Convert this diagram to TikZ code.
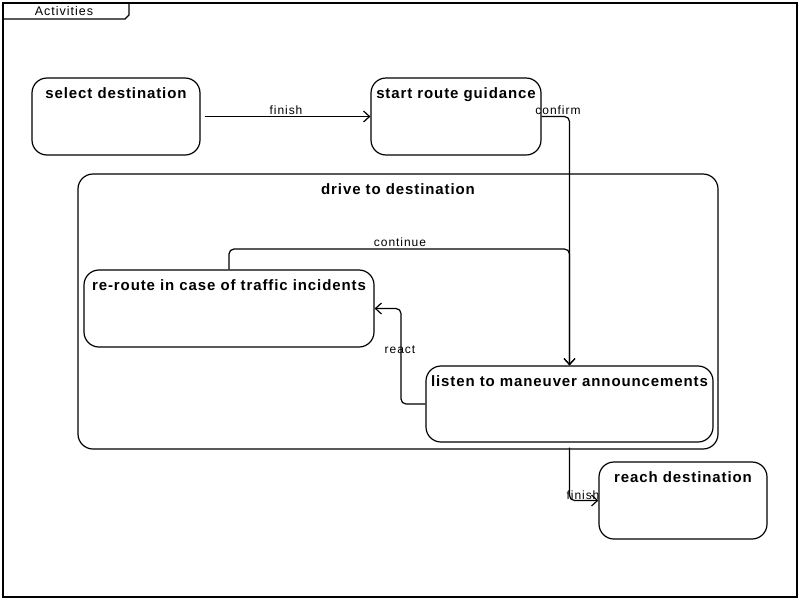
\documentclass[tikz,border=0pt]{standalone}
\usepackage{fontspec}
\setmainfont{Liberation Sans}
\newfontfamily\titlefont[LetterSpace=6]{Liberation Sans}
\newfontfamily\lblfont[LetterSpace=8]{Liberation Sans}
\usetikzlibrary{arrows.meta}
\begin{document}
\begin{tikzpicture}[x=1pt,y=-1pt,
  state/.style={draw,line width=1.2pt,rounded corners=15pt,inner sep=0pt},
  title/.style={font=\titlefont\bfseries\fontsize{15}{17}\selectfont,anchor=north,inner sep=0pt},
  lbl/.style={font=\lblfont\fontsize{12}{13}\selectfont,inner sep=0pt},
  conn/.style={line width=1.2pt,rounded corners=5pt,-{Straight Barb[length=6pt,width=11pt,line width=1.2pt]}}]
\useasboundingbox (0,0) rectangle (800,600);
% frame
\draw[line width=1.2pt] (3,3) rectangle (797,597);
\draw[line width=1.2pt] (3,19) -- (125,19) -- (129,15) -- (129,3);
\node[lbl,font=\lblfont\fontsize{12.5}{14}\selectfont] (acttitle) at (64,11) {Activities};
% states
\node[state,minimum width=168pt,minimum height=77pt] (sel) at (116,116.5) {};
\node[state,minimum width=170pt,minimum height=77pt] (srg) at (456,116.5) {};
\node[state,minimum width=640pt,minimum height=275pt] (drive) at (398,311.5) {};
\node[state,minimum width=290pt,minimum height=77pt] (rer) at (229,308.5) {};
\node[state,minimum width=287pt,minimum height=76pt] (lis) at (569.5,404) {};
\node[state,minimum width=168pt,minimum height=77pt] (rea) at (683,500.5) {};
% titles
\node[title] (selt) at ([yshift=-10pt]sel.north) {select destination};
\node[title] (srgt) at ([yshift=-10pt]srg.north) {start route guidance};
\node[title] (drivet) at ([yshift=-10pt]drive.north) {drive to destination};
\node[title] (rert) at ([yshift=-10pt]rer.north) {re-route in case of traffic incidents};
\node[title] (list) at ([yshift=-10pt]lis.north) {listen to maneuver announcements};
\node[title] (reat) at ([yshift=-10pt]rea.north) {reach destination};
% connectors
\draw[conn] ([xshift=4pt]sel.east) -- (srg.west);
\node[lbl] (l1) at (286,110) {finish};
\draw[conn] (srg.east) -| (lis.north);
\node[lbl] (l2) at (558,110) {confirm};
\draw[conn] (rer.north) |- (400,249) -| (lis.north);
\node[lbl] (l3) at (400,242) {continue};
\draw[conn] (lis.west) -- (401,404) |- (rer.east);
\node[lbl] (l4) at (400,350) {react};
\draw[conn] ([yshift=-5pt]lis.south) |- (rea.west);
\node[lbl] (l5) at (583,495) {finish};
\end{tikzpicture}
\end{document}
